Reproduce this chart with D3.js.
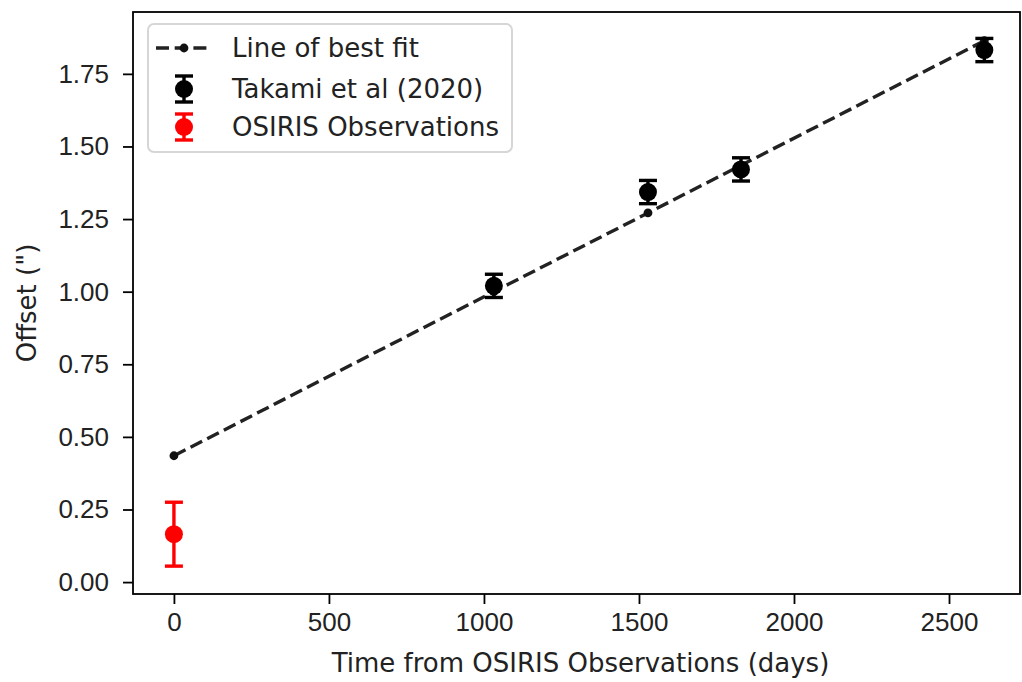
<!DOCTYPE html>
<html>
<head>
<meta charset="utf-8">
<script src="https://cdn.jsdelivr.net/npm/d3@7"></script>
<style>
  html, body { margin: 0; padding: 0; background: #fff; }
  svg { display: block; font-family: "DejaVu Sans", sans-serif; }
</style>
</head>
<body>
<svg id="chart" width="1022" height="682"></svg>
<script>
// Offset of the source over time, measured from the OSIRIS epoch
const takamiDays   = [1032, 1529, 1829, 2614];
const takamiOffset = [1.02, 1.343, 1.421, 1.832];
const takamiErr    = [0.04, 0.04, 0.04, 0.04];

const osirisDays   = [0];
const osirisOffset = [0.165];
const osirisErr    = [0.11];

// Linear fit evaluated at each epoch
const fitDays   = [0, 1032, 1529, 1829, 2614];
const fitOffset = [0.435, 1.0, 1.271, 1.435, 1.864];

const xTicks = [0, 500, 1000, 1500, 2000, 2500];
const yTicks = [0, 0.25, 0.5, 0.75, 1.0, 1.25, 1.5, 1.75];

const legendLabels = ["Line of best fit", "Takami et al (2020)", "OSIRIS Observations"];

const svg = d3.select("#chart");
const margin = { left: 133, right: 2, top: 12, bottom: 88 };
const W = 1022, H = 682;
const x = d3.scaleLinear().domain([-132, 2729]).range([margin.left, W - margin.right]);
const y = d3.scaleLinear().domain([-0.041, 1.963]).range([H - margin.bottom, margin.top]);

const FS = 26;
const textColor = "#222";

// axes
const xAxis = svg.append("g")
  .attr("transform", `translate(0,${H - margin.bottom})`)
  .call(d3.axisBottom(x).tickValues(xTicks).tickFormat(d3.format("d")).tickSizeOuter(0).tickSize(10).tickPadding(9));
const yAxis = svg.append("g")
  .attr("transform", `translate(${margin.left},0)`)
  .call(d3.axisLeft(y).tickValues(yTicks).tickFormat(d3.format(".2f")).tickSizeOuter(0).tickSize(10).tickPadding(14));
[xAxis, yAxis].forEach(g => {
  g.select(".domain").remove();
  g.selectAll(".tick line").attr("stroke", "#000").attr("stroke-width", 1.8);
  g.selectAll(".tick text").attr("fill", textColor).style("font-size", FS + "px");
});

// frame
svg.append("rect")
  .attr("x", margin.left).attr("y", margin.top)
  .attr("width", W - margin.right - margin.left)
  .attr("height", H - margin.bottom - margin.top)
  .attr("fill", "none").attr("stroke", "#000").attr("stroke-width", 1.8);

// axis labels
svg.append("text")
  .attr("x", (margin.left + W - margin.right) / 2 + 4).attr("y", 672)
  .attr("text-anchor", "middle").attr("fill", textColor).style("font-size", FS + "px")
  .text("Time from OSIRIS Observations (days)");
svg.append("text")
  .attr("transform", `translate(36,${(margin.top + H - margin.bottom) / 2}) rotate(-90)`)
  .attr("text-anchor", "middle").attr("fill", textColor).style("font-size", FS + "px")
  .text("Offset (\")");

const plot = svg.append("g");

// best-fit line
const line = d3.line().x((d, i) => x(fitDays[i])).y(d => y(d));
plot.append("path")
  .datum(fitOffset)
  .attr("d", line)
  .attr("fill", "none").attr("stroke", "#222").attr("stroke-width", 3.4)
  .attr("stroke-dasharray", "13,5.7");
plot.selectAll(".fitpt").data(fitOffset).join("circle")
  .attr("cx", (d, i) => x(fitDays[i])).attr("cy", d => y(d)).attr("r", 4.4).attr("fill", "#111");

// error-bar series
function drawErr(days, vals, errs, color) {
  const g = plot.append("g");
  const cap = 9;
  vals.forEach((v, i) => {
    const cx = x(days[i]);
    g.append("line").attr("x1", cx).attr("x2", cx)
      .attr("y1", y(v - errs[i])).attr("y2", y(v + errs[i]))
      .attr("stroke", color).attr("stroke-width", 3.4);
    [v - errs[i], v + errs[i]].forEach(e => {
      g.append("line").attr("x1", cx - cap).attr("x2", cx + cap)
        .attr("y1", y(e)).attr("y2", y(e))
        .attr("stroke", color).attr("stroke-width", 3.4);
    });
    g.append("circle").attr("cx", cx).attr("cy", y(v)).attr("r", 9).attr("fill", color);
  });
}
drawErr(takamiDays, takamiOffset, takamiErr, "#000");
drawErr(osirisDays, osirisOffset, osirisErr, "#ff0000");

// legend
const lg = svg.append("g");
lg.append("rect").attr("x", 148).attr("y", 24).attr("width", 364).attr("height", 128)
  .attr("rx", 6).attr("fill", "#fff").attr("fill-opacity", 0.8)
  .attr("stroke", "#d6d6d6").attr("stroke-width", 2);
const rowY = [48, 89, 127];
// line handle
lg.append("line").attr("x1", 156).attr("x2", 212).attr("y1", rowY[0]).attr("y2", rowY[0])
  .attr("stroke", "#222").attr("stroke-width", 3.4).attr("stroke-dasharray", "13,5.7");
lg.append("circle").attr("cx", 184).attr("cy", rowY[0]).attr("r", 4.4).attr("fill", "#111");
[["#000", rowY[1]], ["#ff0000", rowY[2]]].forEach(([c, cy]) => {
  const hx = 184, h = 13;
  lg.append("line").attr("x1", hx).attr("x2", hx).attr("y1", cy - h).attr("y2", cy + h)
    .attr("stroke", c).attr("stroke-width", 3.4);
  [cy - h, cy + h].forEach(e => lg.append("line").attr("x1", hx - 9).attr("x2", hx + 9)
    .attr("y1", e).attr("y2", e).attr("stroke", c).attr("stroke-width", 3.4));
  lg.append("circle").attr("cx", hx).attr("cy", cy).attr("r", 9).attr("fill", c);
});
lg.selectAll(".lt").data(legendLabels).join("text")
  .attr("x", 232).attr("y", (d, i) => rowY[i]).attr("dy", "0.35em")
  .attr("fill", textColor).style("font-size", FS + "px")
  .text(d => d);
</script>
</body>
</html>
